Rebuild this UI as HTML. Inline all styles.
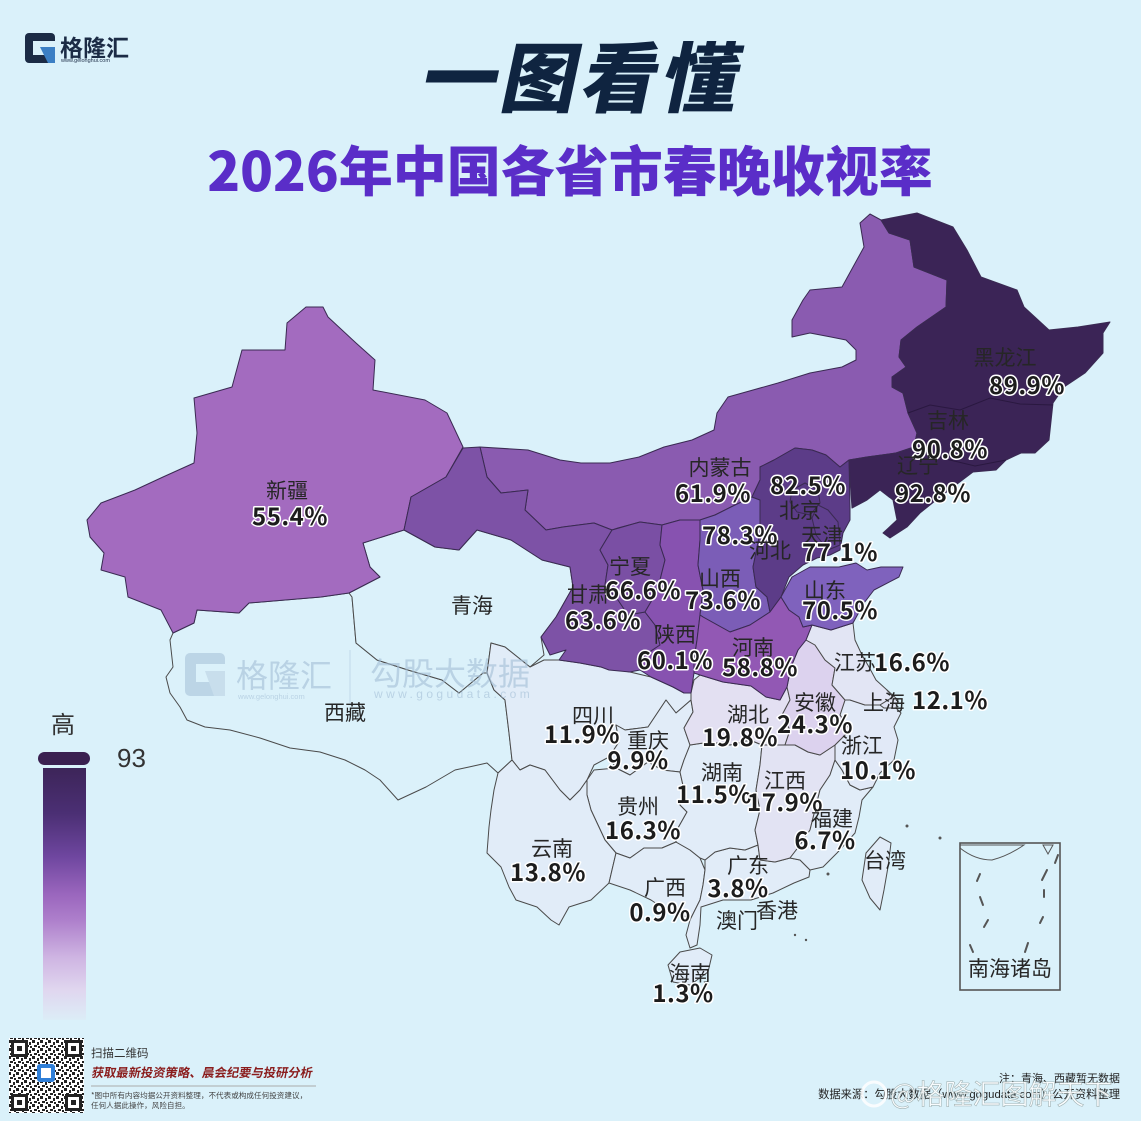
<!DOCTYPE html>
<html><head><meta charset="utf-8"><style>
html,body{margin:0;padding:0;background:#daf1fa;}
svg{display:block;}
.nm{font-family:"Liberation Sans","Noto Sans CJK SC",sans-serif;font-size:21px;fill:#262626;text-anchor:middle;}
.vl{font-family:"Noto Sans CJK SC","Liberation Sans",sans-serif;font-weight:700;font-size:24px;fill:#1c1c1c;text-anchor:middle;stroke:#fff;stroke-width:3px;paint-order:stroke;stroke-linejoin:round;letter-spacing:0.5px;}
.pl{stroke:#3a2a52;stroke-width:1;stroke-linejoin:round;}
.lt{stroke:#4a4a4a;stroke-width:1;stroke-linejoin:round;}
</style></head><body>
<svg width="1141" height="1121" viewBox="0 0 1141 1121" xmlns="http://www.w3.org/2000/svg">
<defs>
<linearGradient id="lg" x1="0" y1="0" x2="0" y2="1">
<stop offset="0" stop-color="#3d2559"/>
<stop offset="0.18" stop-color="#4b2f74"/>
<stop offset="0.35" stop-color="#6e469f"/>
<stop offset="0.5" stop-color="#9a66bd"/>
<stop offset="0.6" stop-color="#ad7ecb"/>
<stop offset="0.75" stop-color="#ceb4e2"/>
<stop offset="0.88" stop-color="#e0d6ef"/>
<stop offset="1" stop-color="#dcedf7"/>
</linearGradient>
<pattern id="qr" width="8" height="8" patternUnits="userSpaceOnUse">
<rect width="8" height="8" fill="#fff"/>
<rect x="0" y="0" width="3" height="3" fill="#222"/>
<rect x="5" y="2" width="2" height="3" fill="#222"/>
<rect x="2" y="5" width="3" height="2" fill="#222"/>
<rect x="6" y="6" width="2" height="2" fill="#222"/>
</pattern>
</defs>
<rect width="1141" height="1121" fill="#daf1fa"/>

<!-- logo -->
<rect x="25" y="33" width="30" height="30" rx="4" fill="#1b2b45"/>
<rect x="33" y="41" width="22" height="14" fill="#daf1fa"/>
<polygon points="40,47 55,47 55,63 48,63" fill="#3b7fc4"/>
<text x="60" y="56" font-family="Noto Sans CJK SC,sans-serif" font-size="23" font-weight="700" fill="#1b2b45">格隆汇</text>
<text x="61" y="62" font-family="Liberation Sans,sans-serif" font-size="5.5" fill="#1b2b45">www.gelonghui.com</text>

<!-- title -->
<g transform="translate(578,106) skewX(-12)"><text x="0" y="0" text-anchor="middle" font-family="Noto Sans CJK SC,sans-serif" font-weight="900" font-size="76" fill="#0f2440" letter-spacing="4">一图看懂</text></g>
<text x="570" y="191" text-anchor="middle" font-family="Noto Sans CJK SC,sans-serif" font-weight="900" font-size="54" fill="#5a2dc8">2026年中国各省市春晚收视率</text>

<!-- Tibet & Qinghai (no data) -->
<polygon class="lt" fill="#dbf1fa" points="173,633 194,623 197,610 239,613 249,603 321,597 349,593 352,597 356,643 377,660 408,670 442,680 459,693 483,673 487,673 494,690 505,700 509,733 512,760 498,773 487,763 469,767 455,770 426,787 398,800 380,780 365,770 345,760 320,752 290,748 260,738 230,730 205,727 187,720 180,707 170,693 166,677 173,667 170,640"/>
<polygon class="lt" fill="#dbf1fa" points="349,593 380,577 370,567 363,543 404,530 435,547 459,550 477,530 511,540 542,560 570,567 573,587 556,617 541,637 544,655 530,667 505,647 491,643 487,673 483,673 459,693 442,680 408,670 377,660 356,643 352,597"/>

<!-- south provinces -->
<polygon class="lt" fill="#e1ecf8" points="487,673 491,643 505,647 530,667 544,660 559,660 580,663 601,667 630,672 651,677 673,687 684,693 691,693 691,700 676,713 666,700 648,727 625,730 616,725 619,742 609,757 594,765 587,780 580,790 570,800 560,790 545,770 530,765 520,770 512,760 509,733 505,700 494,690"/>
<polygon class="lt" fill="#e1ecf8" points="666,700 676,713 691,700 693,712 684,728 690,745 684,760 680,772 662,770 648,762 630,775 616,768 609,757 619,742 616,725 625,730 648,727"/>
<polygon class="lt" fill="#e1ecf8" points="594,770 616,768 630,775 648,762 662,770 680,772 684,790 680,805 687,812 678,828 676,842 662,848 644,848 630,858 616,853 605,840 598,825 591,810 587,795 587,780"/>
<polygon class="lt" fill="#e1ecf8" points="498,773 512,760 520,770 530,765 545,770 560,790 570,800 580,790 587,780 587,795 591,810 598,825 605,840 616,853 612,870 609,883 591,900 569,907 559,925 551,920 537,907 516,900 509,887 501,867 487,853 489,827 491,810 494,790"/>
<polygon class="lt" fill="#e1ecf8" points="616,853 630,858 644,848 662,848 676,842 690,850 700,858 705,870 703,885 700,900 690,920 687,917 666,910 651,900 630,890 609,883 612,870"/>
<polygon class="lt" fill="#e1ecf8" points="705,860 715,852 730,848 745,850 758,845 760,860 775,862 790,858 800,860 810,870 809,877 794,883 773,893 751,900 723,900 701,907 700,925 697,945 690,948 686,935 690,920 700,900 703,885 705,870"/>
<polygon class="lt" fill="#e1ecf8" points="690,745 710,742 730,745 750,740 762,745 760,765 756,790 760,810 755,830 758,845 745,850 730,848 715,852 705,860 700,858 690,850 676,842 678,828 687,812 680,805 684,790 680,772 684,760"/>
<polygon class="lt" fill="#e2e3f3" points="762,745 785,745 795,745 808,752 820,755 835,745 835,760 830,775 820,790 815,810 810,830 800,845 790,858 775,862 760,860 758,845 755,830 760,810 756,790 760,765"/>
<polygon class="lt" fill="#e1ecf8" points="835,760 842,770 850,785 860,790 873,787 862,800 859,817 855,833 837,853 823,867 810,870 800,860 790,858 800,845 810,830 815,810 820,790 830,775"/>
<polygon class="lt" fill="#e1e9f7" points="845,700 850,700 865,705 880,705 884,708 896,708 901,713 894,727 898,740 894,760 880,773 873,787 860,790 850,785 842,770 835,760 835,745 850,730 840,715"/>
<polygon class="lt" fill="#e3e0f2" points="691,693 694,680 700,675 723,682 751,686 766,697 780,700 787,687 790,700 782,715 790,730 785,745 762,745 750,740 730,745 710,742 690,745 684,728 693,712 691,700"/>
<polygon class="lt" fill="#dcd2ee" points="787,687 791,667 798,650 806,640 815,645 825,660 835,668 832,685 845,700 840,715 850,730 835,745 820,755 808,752 795,745 785,745 790,730 782,715 790,700"/>
<polygon class="lt" fill="#e2e5f4" points="812,625 831,630 853,623 855,640 862,655 869,667 876,680 887,690 893,697 880,705 865,705 850,700 845,700 832,685 835,668 825,660 815,645 806,640"/>
<polygon class="lt" fill="#e1e5f4" points="887,690 898,700 896,708 884,708 880,705 893,697"/>
<polygon class="lt" fill="#e1ecf8" points="668,965 680,952 700,948 712,955 708,972 690,985 673,982"/>
<polygon class="lt" fill="#e1ecf8" points="880,837 891,843 888,867 884,890 880,910 870,898 862,880 866,853"/>
<circle cx="828" cy="874" r="1.5" fill="#555"/><circle cx="907" cy="826" r="1.5" fill="#555"/><circle cx="940" cy="838" r="1.5" fill="#555"/><circle cx="795" cy="935" r="1.2" fill="#555"/><circle cx="806" cy="940" r="1.2" fill="#555"/>

<!-- north purple provinces -->
<polygon class="pl" fill="#a36bbf" points="306,307 323,307 328,317 356,343 375,360 373,390 425,400 447,413 463,447 446,477 411,497 404,530 363,543 370,567 380,577 349,593 321,597 249,603 239,613 197,610 194,623 173,633 161,610 128,597 125,577 101,570 104,553 90,537 87,520 101,503 135,490 163,477 194,463 197,433 194,398 232,387 242,350 285,350 287,323"/>
<polygon class="pl" fill="#8a5bb0" points="480,447 528,450 560,460 581,463 610,463 639,457 664,447 692,440 714,430 717,413 728,397 753,390 778,383 810,373 842,367 856,360 856,350 846,340 831,337 810,333 792,337 792,320 803,300 810,290 842,287 864,247 860,223 870,214 881,220 889,233 910,240 914,267 947,280 946,307 917,327 901,340 899,357 906,367 892,377 892,387 903,393 908,413 917,433 914,447 896,453 867,457 849,460 840,467 826,455 812,450 795,448 774,460 760,467 760,480 752,497 735,505 715,515 700,520 680,520 662,525 640,522 618,528 612,530 594,523 563,527 546,530 525,510 528,490 501,493 487,477"/>
<polygon class="pl" fill="#7d52a6" points="463,448 480,447 487,477 501,493 528,490 525,510 546,530 563,527 594,523 612,530 600,550 608,565 605,585 618,600 628,615 645,612 655,625 660,645 645,655 640,670 630,672 609,670 601,667 580,663 559,660 566,650 550,655 541,637 556,617 573,587 570,567 542,560 511,540 477,530 459,550 435,547 404,530 411,497 446,477"/>
<polygon class="pl" fill="#7a4fa4" points="612,530 640,522 662,525 660,545 665,560 660,580 655,595 645,612 628,615 618,600 605,585 608,565 600,550"/>
<polygon class="pl" fill="#8752b0" points="662,525 680,520 700,520 700,540 698,565 703,590 700,615 697,640 694,660 694,673 691,693 684,693 673,687 651,677 640,670 645,655 660,645 655,625 645,612 655,595 660,580 665,560 660,545"/>
<polygon class="pl" fill="#7b5db7" points="700,520 715,515 735,505 752,497 760,500 760,533 753,567 756,587 767,597 770,612 750,625 730,632 703,617 700,615 703,590 698,565 700,540"/>
<polygon class="pl" fill="#5c3c88" points="760,467 774,460 795,448 812,450 826,455 840,467 849,460 850,507 850,520 843,533 840,550 830,555 817,558 803,565 789,577 781,597 770,612 767,597 756,587 753,567 760,533 760,500 752,497 760,480"/>
<polygon class="pl" fill="#573883" points="792,490 805,483 818,490 820,503 810,515 797,512 790,502"/>
<polygon class="pl" fill="#5f3f8d" points="818,505 828,510 838,522 840,545 828,550 816,535 812,518"/>
<polygon class="pl" fill="#9258b4" points="703,617 730,632 750,625 770,612 781,597 789,610 799,617 803,627 812,625 806,640 798,650 791,667 787,687 780,700 766,697 751,686 723,682 700,675 694,673 694,660 697,640 700,615"/>
<polygon class="pl" fill="#7f62bd" points="781,597 792,577 810,567 839,567 856,563 867,570 881,567 903,567 899,577 874,590 864,603 853,623 831,630 812,625 803,627 799,617 789,610"/>
<polygon class="pl" fill="#3b2456" points="881,220 917,213 953,227 967,250 981,277 1017,290 1024,307 1049,330 1078,327 1110,322 1103,333 1103,353 1085,373 1064,387 1053,403 1049,440 1035,453 1021,453 1006,460 996,470 973,472 940,497 920,513 907,527 890,538 883,533 897,520 893,500 880,490 867,500 852,508 850,480 849,460 867,457 896,453 914,447 917,433 908,413 903,393 892,387 892,377 906,367 899,357 901,340 917,327 946,307 947,280 914,267 910,240 889,233"/>
<polyline fill="none" stroke="#2a1840" stroke-width="1" points="908,413 930,405 960,410 990,398 1020,404 1053,405"/>
<polyline fill="none" stroke="#2a1840" stroke-width="1" points="914,447 930,455 950,460 975,466 1006,460"/>

<!-- watermark (over map) -->
<g opacity="0.6">
<rect x="185" y="653" width="40" height="43" rx="5" fill="#a9c3da"/>
<rect x="196" y="664" width="29" height="18" fill="#dbf1fa"/>
<polygon points="205,671 225,671 225,696 214,696" fill="#bcd2e4"/>
<text x="236" y="687" font-family="Noto Sans CJK SC,sans-serif" font-size="32" fill="#a3bed6">格隆汇</text>
<text x="238" y="699" font-family="Liberation Sans,sans-serif" font-size="7.5" fill="#a3bed6">www.gelonghui.com</text>
<line x1="350" y1="650" x2="350" y2="703" stroke="#b3cade" stroke-width="1"/>
<text x="370" y="685" font-family="Noto Sans CJK SC,sans-serif" font-size="32" fill="#a3bed6">勾股大数据</text>
<text x="374" y="698" font-family="Liberation Sans,sans-serif" font-size="12" fill="#a3bed6" letter-spacing="3.4">www.gogudata.com</text>
</g>

<!-- inset -->
<rect x="960" y="843" width="100" height="147" fill="none" stroke="#555" stroke-width="1.6"/>
<path d="M960,848 Q975,860 992,860 Q1008,856 1024,845 L960,845 Z" fill="none" stroke="#555" stroke-width="1"/>
<polygon points="1043,845 1053,845 1048,854" fill="none" stroke="#555" stroke-width="1"/>
<g stroke="#555" stroke-width="2" stroke-linecap="round">
<line x1="980" y1="874" x2="977" y2="881"/><line x1="980" y1="897" x2="983" y2="905"/><line x1="988" y1="920" x2="984" y2="927"/><line x1="970" y1="945" x2="973" y2="952"/><line x1="1047" y1="870" x2="1042" y2="880"/><line x1="1044" y1="890" x2="1044" y2="897"/><line x1="1043" y1="917" x2="1040" y2="923"/><line x1="1028" y1="943" x2="1025" y2="952"/><line x1="1058" y1="855" x2="1055" y2="863"/>
</g>
<text x="1010" y="976" class="nm" font-size="20">南海诸岛</text>

<!-- labels -->
<text class="nm" x="287" y="498">新疆</text><text class="vl" x="290" y="525">55.4%</text>
<text class="nm" x="472" y="613">青海</text>
<text class="nm" x="345" y="720">西藏</text>
<text class="nm" x="720" y="475">内蒙古</text><text class="vl" x="713" y="502">61.9%</text>
<text class="vl" x="808" y="494">82.5%</text>
<text class="nm" x="800" y="518">北京</text>
<text class="vl" x="740" y="544">78.3%</text>
<text class="nm" x="770" y="558">河北</text>
<text class="nm" x="822" y="543">天津</text><text class="vl" x="840" y="561">77.1%</text>
<text class="nm" x="630" y="574">宁夏</text><text class="vl" x="643" y="599">66.6%</text>
<text class="nm" x="588" y="602">甘肃</text><text class="vl" x="603" y="629">63.6%</text>
<text class="nm" x="720" y="586">山西</text><text class="vl" x="723" y="609">73.6%</text>
<text class="nm" x="825" y="598">山东</text><text class="vl" x="840" y="619">70.5%</text>
<text class="nm" x="675" y="642">陕西</text><text class="vl" x="675" y="669">60.1%</text>
<text class="nm" x="753" y="655">河南</text><text class="vl" x="760" y="676">58.8%</text>
<text class="nm" x="855" y="670">江苏</text><text class="vl" x="912" y="671">16.6%</text>
<text class="nm" x="884" y="710">上海</text><text class="vl" x="950" y="709">12.1%</text>
<text class="nm" x="815" y="710">安徽</text><text class="vl" x="815" y="733">24.3%</text>
<text class="nm" x="593" y="723">四川</text><text class="vl" x="582" y="743">11.9%</text>
<text class="nm" x="748" y="722">湖北</text><text class="vl" x="740" y="746">19.8%</text>
<text class="nm" x="648" y="748">重庆</text><text class="vl" x="638" y="769">9.9%</text>
<text class="nm" x="862" y="753">浙江</text><text class="vl" x="878" y="779">10.1%</text>
<text class="nm" x="722" y="780">湖南</text><text class="vl" x="714" y="803">11.5%</text>
<text class="nm" x="785" y="788">江西</text><text class="vl" x="785" y="811">17.9%</text>
<text class="nm" x="638" y="814">贵州</text><text class="vl" x="643" y="839">16.3%</text>
<text class="nm" x="832" y="826">福建</text><text class="vl" x="825" y="849">6.7%</text>
<text class="nm" x="552" y="856">云南</text><text class="vl" x="548" y="881">13.8%</text>
<text class="nm" x="885" y="868">台湾</text>
<text class="nm" x="748" y="873">广东</text><text class="vl" x="738" y="897">3.8%</text>
<text class="nm" x="665" y="895">广西</text><text class="vl" x="660" y="921">0.9%</text>
<text class="nm" x="737" y="928">澳门</text>
<text class="nm" x="777" y="918">香港</text>
<text class="nm" x="690" y="981">海南</text><text class="vl" x="683" y="1002">1.3%</text>
<text class="nm" x="1005" y="365">黑龙江</text><text class="vl" x="1027" y="394">89.9%</text>
<text class="nm" x="948" y="428">吉林</text><text class="vl" x="950" y="458">90.8%</text>
<text class="nm" x="918" y="473">辽宁</text><text class="vl" x="933" y="502">92.8%</text>

<!-- legend -->
<text x="63" y="733" text-anchor="middle" font-family="Noto Sans CJK SC,sans-serif" font-size="24" fill="#333">高</text>
<rect x="38" y="752" width="52" height="13" rx="6.5" fill="#3a2050"/>
<rect x="43" y="768" width="43" height="252" fill="url(#lg)"/>
<text x="117" y="767" font-family="Liberation Sans,sans-serif" font-size="26" fill="#333">93</text>

<!-- QR -->
<rect x="9" y="1038" width="75" height="75" fill="url(#qr)"/>
<g fill="#fff" stroke="#222" stroke-width="3">
<rect x="12.5" y="1041.5" width="14" height="14"/><rect x="66.5" y="1041.5" width="14" height="14"/><rect x="12.5" y="1095.5" width="14" height="14"/><rect x="66.5" y="1095.5" width="14" height="14"/>
</g>
<g fill="#222"><rect x="17" y="1046" width="5" height="5"/><rect x="71" y="1046" width="5" height="5"/><rect x="17" y="1100" width="5" height="5"/><rect x="71" y="1100" width="5" height="5"/></g>
<rect x="37" y="1064" width="18" height="18" rx="3" fill="#2f7fd8"/>
<rect x="41" y="1068" width="10" height="10" fill="#fff"/>

<text x="91" y="1057" font-family="Noto Sans CJK SC,sans-serif" font-size="11.5" fill="#333">扫描二维码</text>
<g transform="translate(91,1077) skewX(-10)"><text x="0" y="0" font-family="Noto Sans CJK SC,sans-serif" font-size="12.3" font-weight="700" fill="#8a1c1c">获取最新投资策略、晨会纪要与投研分析</text></g>
<line x1="91" y1="1086" x2="316" y2="1086" stroke="#aaa" stroke-width="1"/>
<text x="91" y="1098" font-family="Noto Sans CJK SC,sans-serif" font-size="7.6" fill="#444">*图中所有内容均据公开资料整理，不代表或构成任何投资建议，</text>
<text x="91" y="1108" font-family="Noto Sans CJK SC,sans-serif" font-size="7.6" fill="#444">任何人据此操作，风险自担。</text>

<text x="1120" y="1082" text-anchor="end" font-family="Noto Sans CJK SC,sans-serif" font-size="11" fill="#222">注：青海、西藏暂无数据</text>
<text x="1120" y="1098" text-anchor="end" font-family="Liberation Sans,Noto Sans CJK SC,sans-serif" font-size="11.3" fill="#222">数据来源：勾股大数据（www.gogudata.com）公开资料整理</text>
<g opacity="0.85">
<circle cx="874" cy="1094" r="12" fill="none" stroke="#fff" stroke-width="3"/>
<text x="890" y="1104" font-family="Noto Sans CJK SC,sans-serif" font-size="28" fill="#fff" stroke="#9aa" stroke-width="0.6">@格隆汇图解天下</text>
</g>
</svg>
</body></html>
